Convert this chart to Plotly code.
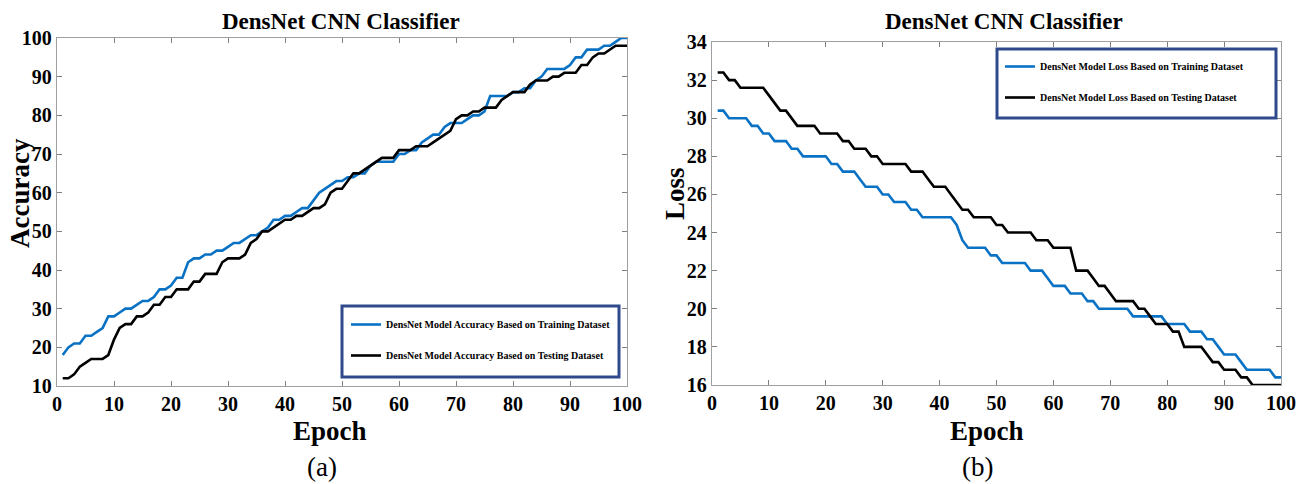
import plotly.graph_objects as go

epochs = list(range(1, 101))

acc_train = [18, 20, 21, 21, 23, 23, 24, 25, 28, 28,
             29, 30, 30, 31, 32, 32, 33, 35, 35, 36,
             38, 38, 42, 43, 43, 44, 44, 45, 45, 46,
             47, 47, 48, 49, 49, 50, 51, 53, 53, 54,
             54, 55, 56, 56, 58, 60, 61, 62, 63, 63,
             64, 64, 65, 65, 67, 68, 68, 68, 68, 70,
             70, 71, 71, 73, 74, 75, 75, 77, 78, 78,
             78, 79, 80, 80, 81, 85, 85, 85, 85, 86,
             86, 87, 87, 89, 90, 92, 92, 92, 92, 93,
             95, 95, 97, 97, 97, 98, 98, 99, 100, 100]

acc_test = [12, 12, 13, 15, 16, 17, 17, 17, 18, 22,
            25, 26, 26, 28, 28, 29, 31, 31, 33, 33,
            35, 35, 35, 37, 37, 39, 39, 39, 42, 43,
            43, 43, 44, 47, 48, 50, 50, 51, 52, 53,
            53, 54, 54, 55, 56, 56, 57, 60, 61, 61,
            63, 65, 65, 66, 67, 68, 69, 69, 69, 71,
            71, 71, 72, 72, 72, 73, 74, 75, 76, 79,
            80, 80, 81, 81, 82, 82, 82, 84, 85, 86,
            86, 86, 88, 89, 89, 89, 90, 90, 91, 91,
            91, 93, 93, 95, 96, 96, 97, 98, 98, 98]

loss_train = [30.4, 30.4, 30.0, 30.0, 30.0, 30.0, 29.6, 29.6, 29.2, 29.2,
              28.8, 28.8, 28.8, 28.4, 28.4, 28.0, 28.0, 28.0, 28.0, 28.0,
              27.6, 27.6, 27.2, 27.2, 27.2, 26.8, 26.4, 26.4, 26.4, 26.0,
              26.0, 25.6, 25.6, 25.6, 25.2, 25.2, 24.8, 24.8, 24.8, 24.8,
              24.8, 24.8, 24.4, 23.6, 23.2, 23.2, 23.2, 23.2, 22.8, 22.8,
              22.4, 22.4, 22.4, 22.4, 22.4, 22.0, 22.0, 22.0, 21.6, 21.2,
              21.2, 21.2, 20.8, 20.8, 20.8, 20.4, 20.4, 20.0, 20.0, 20.0,
              20.0, 20.0, 20.0, 19.6, 19.6, 19.6, 19.6, 19.6, 19.6, 19.2,
              19.2, 19.2, 19.2, 18.8, 18.8, 18.8, 18.4, 18.4, 18.0, 17.6,
              17.6, 17.6, 17.2, 16.8, 16.8, 16.8, 16.8, 16.8, 16.4, 16.4]

loss_test = [32.4, 32.4, 32.0, 32.0, 31.6, 31.6, 31.6, 31.6, 31.6, 31.2,
             30.8, 30.4, 30.4, 30.0, 29.6, 29.6, 29.6, 29.6, 29.2, 29.2,
             29.2, 29.2, 28.8, 28.8, 28.4, 28.4, 28.4, 28.0, 28.0, 27.6,
             27.6, 27.6, 27.6, 27.6, 27.2, 27.2, 27.2, 26.8, 26.4, 26.4,
             26.4, 26.0, 25.6, 25.2, 25.2, 24.8, 24.8, 24.8, 24.8, 24.4,
             24.4, 24.0, 24.0, 24.0, 24.0, 24.0, 23.6, 23.6, 23.6, 23.2,
             23.2, 23.2, 23.2, 22.0, 22.0, 22.0, 21.6, 21.2, 21.2, 20.8,
             20.4, 20.4, 20.4, 20.4, 20.0, 20.0, 19.6, 19.2, 19.2, 19.2,
             18.8, 18.8, 18.0, 18.0, 18.0, 18.0, 17.6, 17.2, 17.2, 16.8,
             16.8, 16.8, 16.4, 16.4, 16.0, 16.0, 16.0, 16.0, 16.0, 16.0]

x_ticks = [0, 10, 20, 30, 40, 50, 60, 70, 80, 90, 100]
acc_ticks = [10, 20, 30, 40, 50, 60, 70, 80, 90, 100]
loss_ticks = [16, 18, 20, 22, 24, 26, 28, 30, 32, 34]

title_text = "DensNet CNN Classifier"
acc_names = ["DensNet Model Accuracy Based on Training Dataset",
             "DensNet Model Accuracy Based on Testing Dataset"]
loss_names = ["DensNet Model Loss Based on Training Dataset",
              "DensNet Model Loss Based on Testing Dataset"]

BLUE = "#0A72C4"
BLACK = "#000000"
BOX = "#2E4A8B"
SERIF = "Liberation Serif"
W, H = 1310, 484


def px_x(p):
    return p / W


def px_y(p):
    return 1 - p / H


fig = go.Figure()
fig.add_trace(go.Scatter(x=epochs, y=acc_train, mode="lines", name=acc_names[0],
                         line=dict(color=BLUE, width=2.6), xaxis="x", yaxis="y",
                         legend="legend", legendgroup="a1"))
fig.add_trace(go.Scatter(x=epochs, y=acc_test, mode="lines", name=acc_names[1],
                         line=dict(color=BLACK, width=2.6), xaxis="x", yaxis="y",
                         legend="legend", legendgroup="a2"))
fig.add_trace(go.Scatter(x=epochs, y=loss_train, mode="lines", name=loss_names[0],
                         line=dict(color=BLUE, width=2.6), xaxis="x2", yaxis="y2",
                         legend="legend2", legendgroup="b1"))
fig.add_trace(go.Scatter(x=epochs, y=loss_test, mode="lines", name=loss_names[1],
                         line=dict(color=BLACK, width=2.6), xaxis="x2", yaxis="y2",
                         legend="legend2", legendgroup="b2"))

tickfont = dict(family=SERIF, size=20, color="black", weight="bold")
axis_common = dict(showgrid=False, zeroline=False, showline=True, linecolor="#a0a0a0",
                   linewidth=1.3, mirror="ticks", ticks="inside", ticklen=5,
                   tickcolor="#808080", tickwidth=1, tickfont=tickfont, automargin=False)

legend_font = dict(family=SERIF, size=10, color="black", weight="bold")

fig.update_layout(
    width=W, height=H,
    margin=dict(l=0, r=0, t=0, b=0, pad=0),
    font=dict(family=SERIF, color="black"),
    paper_bgcolor="white", plot_bgcolor="white",
    showlegend=True,
    xaxis=dict(domain=[px_x(57), px_x(627)], range=[0, 100], tickvals=x_ticks,
               anchor="y", **axis_common),
    yaxis=dict(domain=[px_y(386), px_y(38)], range=[10, 100], tickvals=acc_ticks,
               anchor="x", **axis_common),
    xaxis2=dict(domain=[px_x(712), px_x(1281)], range=[0, 100], tickvals=x_ticks,
                anchor="y2", **axis_common),
    yaxis2=dict(domain=[px_y(385), px_y(42)], range=[16, 34], tickvals=loss_ticks,
                anchor="x2", **axis_common),
    legend=dict(x=px_x(346), y=px_y(310), xanchor="left", yanchor="top",
                bgcolor="rgba(0,0,0,0)", borderwidth=0, font=legend_font,
                tracegroupgap=12, itemwidth=30),
    legend2=dict(x=px_x(1000), y=px_y(52), xanchor="left", yanchor="top",
                 bgcolor="rgba(0,0,0,0)", borderwidth=0, font=legend_font,
                 tracegroupgap=12, itemwidth=30),
    shapes=[
        dict(type="rect", xref="paper", yref="paper",
             x0=px_x(342), x1=px_x(619), y0=px_y(377), y1=px_y(306),
             line=dict(color=BOX, width=3), fillcolor="white", layer="above"),
        dict(type="rect", xref="paper", yref="paper",
             x0=px_x(997), x1=px_x(1276), y0=px_y(118), y1=px_y(49),
             line=dict(color=BOX, width=3), fillcolor="white", layer="above"),
    ],
)

ann_font_title = dict(family=SERIF, size=23, color="black", weight="bold")
ann_font_axis = dict(family=SERIF, size=27, color="black", weight="bold")
ann_font_sub = dict(family=SERIF, size=27, color="black")

annotations = [
    dict(text=title_text, x=px_x(341), y=px_y(22), font=ann_font_title),
    dict(text=title_text, x=px_x(1004), y=px_y(22), font=ann_font_title),
    dict(text="Epoch", x=px_x(330), y=px_y(431), font=ann_font_axis),
    dict(text="Epoch", x=px_x(987), y=px_y(431), font=ann_font_axis),
    dict(text="Accuracy", x=px_x(20), y=px_y(193), font=ann_font_axis, textangle=-90),
    dict(text="Loss", x=px_x(675), y=px_y(194), font=ann_font_axis, textangle=-90),
    dict(text="(a)", x=px_x(322), y=px_y(467), font=ann_font_sub),
    dict(text="(b)", x=px_x(977), y=px_y(467), font=ann_font_sub),
]
for a in annotations:
    a.update(xref="paper", yref="paper", showarrow=False, xanchor="center", yanchor="middle")
fig.update_layout(annotations=annotations)

fig.write_html("out.html",
               config={"displayModeBar": False},
               post_script="document.body.style.margin='0px';document.body.style.overflow='hidden';")
